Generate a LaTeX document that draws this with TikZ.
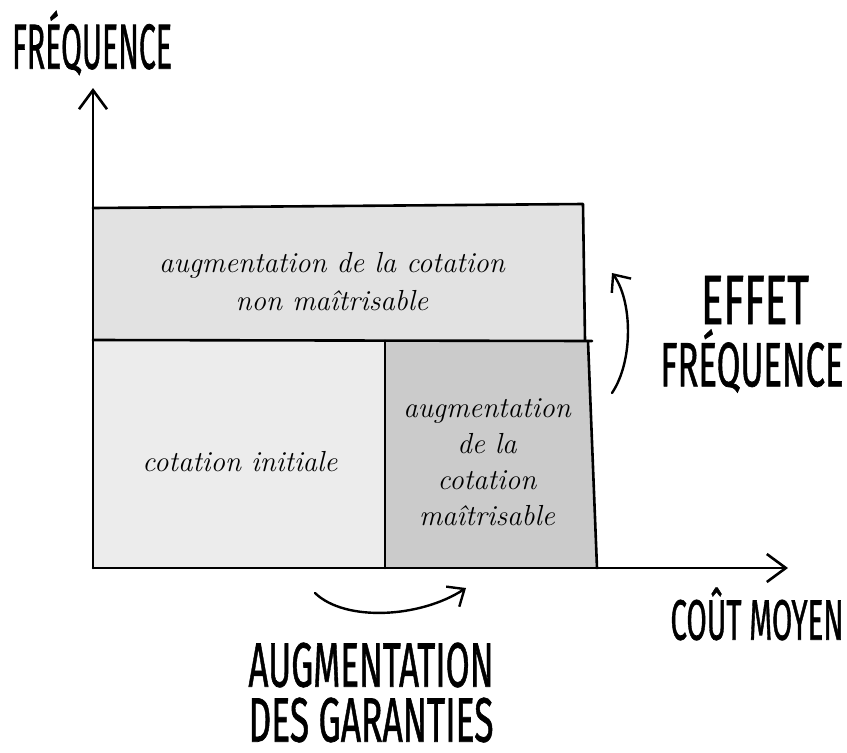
\documentclass[tikz,border=0pt]{standalone}
\usepackage{fontspec}
\usepackage{graphicx}
\newfontfamily\capsfont[FakeBold=1.2]{Fira Sans}
\usetikzlibrary{arrows.meta}
\definecolor{topfill}{HTML}{E2E2E2}
\definecolor{leftfill}{HTML}{ECECEC}
\definecolor{rightfill}{HTML}{CBCBCB}
\newcommand{\hcaps}[3]{\resizebox{#1pt}{#2pt}{\capsfont #3}}
\tikzset{
  edge/.style={line width=2.6pt, line cap=round, line join=round},
  axis/.style={line width=2.6pt, line cap=round, -{Straight Barb[length=19pt,width=28pt]}},
  curvearrow/.style={line width=2.4pt, line cap=round, -{Straight Barb[length=14pt,width=24pt]}},
  script/.style={font=\fontsize{29}{38}\selectfont\itshape, align=center, inner sep=0pt},
  capslabel/.style={inner sep=0pt, align=center}
}
\begin{document}
\begin{tikzpicture}[x=1pt,y=-1pt]
\useasboundingbox[fill=white] (0,0) rectangle (847,753);
% fills
\fill[topfill] (93,208) -- (583,204) -- (586,340) -- (93,340) -- cycle;
\fill[leftfill] (93,340) rectangle (385,568);
\fill[rightfill] (385,341) -- (588,341) -- (597,568) -- (385,568) -- cycle;
% coordinates
\coordinate (O) at (93,568);
\coordinate (ytip) at (93,88);
\coordinate (xtip) at (788,568);
\coordinate (tl) at (93,208);
\coordinate (tr) at (583,204);
\coordinate (ml) at (93,340);
\coordinate (mr) at (592,341);
\coordinate (mtr) at (585,340);
\coordinate (sepT) at (385,341);
\coordinate (sepB) at (385,568);
\coordinate (rbT) at (588,341);
\coordinate (rbB) at (597,568);
% box edges
\draw[edge] (tl) -- (tr) -- (mtr);
\draw[edge] (ml) -- (mr);
\draw[edge] (sepT) -- (sepB);
\draw[edge] (rbT) -- (rbB);
% axes
\draw[axis] (O) -- (ytip);
\draw[axis] (O) -- (xtip);
% box texts
\node[script] (top) at (332,282) {augmentation de la cotation\\non maîtrisable};
\node[script, font=\fontsize{29}{36}\selectfont\itshape] (ctrl) at (487,462) {augmentation\\de la\\cotation\\maîtrisable};
\node[script] (init) at (240,462) {cotation initiale};
% caps labels
\node[capslabel] (freq) at (92,43) {\hcaps{160}{58}{FRÉQUENCE}};
\node[capslabel] (effet) at (755,300) {\hcaps{108}{48}{EFFET}};
\node[capslabel] (effetfreq) at (752,361) {\hcaps{183}{57}{FRÉQUENCE}};
\node[capslabel] (cout) at (757,614) {\hcaps{173}{52}{COÛT MOYEN}};
\node[capslabel] (augm) at (371,665) {\hcaps{245}{44}{AUGMENTATION}};
\node[capslabel] (gar) at (371,720) {\hcaps{245}{44}{DES GARANTIES}};
% curved arrows
\coordinate (ef1) at (612,393);
\coordinate (ef2) at (612,273);
\draw[curvearrow] (ef1) .. controls (634,360) and (632,300) .. (ef2);
\coordinate (ag1) at (315,593);
\coordinate (ag2) at (466,588);
\draw[curvearrow] (ag1) .. controls (345,622) and (420,618) .. (ag2);
\end{tikzpicture}
\end{document}
